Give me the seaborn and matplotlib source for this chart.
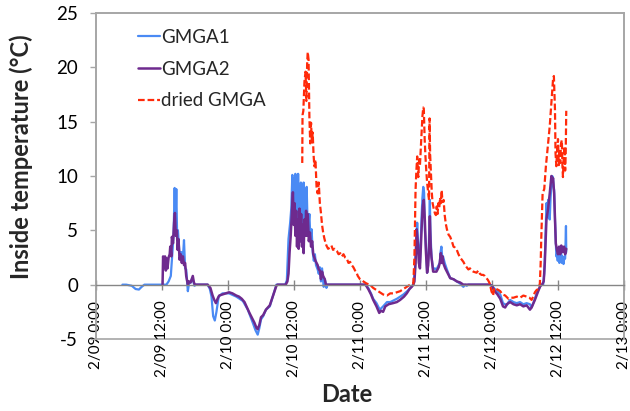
import matplotlib
matplotlib.use("Agg")
import numpy as np
import pandas as pd
import matplotlib.pyplot as plt
import matplotlib.dates as mdates
from matplotlib.ticker import FuncFormatter, FixedLocator
from matplotlib.patches import Rectangle
import seaborn as sns

# ---------------- data (hours since 2/09 0:00, temperature in deg C) ----------------
start = pd.Timestamp("2013-02-09 00:00")

gmga1_hours = [4.8, 5.5, 6.5, 7.2, 7.8, 8.3, 8.8, 10, 11, 12, 12.8, 13.2, 13.6, 13.9, 14.1, 14.3, 14.45, 14.6,
               14.75, 14.9, 15.2, 15.5, 15.8, 16.0, 16.2, 16.4, 16.7, 16.9, 17.2, 17.5, 17.7, 17.9, 18.2, 20.3,
               20.7, 21.0, 21.3, 21.6, 21.9, 22.3, 23, 24.2, 25.5, 26.7, 27.6, 28.5, 29.0, 29.4, 29.7, 30.0,
               30.4, 30.9, 31.6, 32.2, 32.8, 34.4, 34.7, 35.0, 35.3, 35.5,
               35.7, 35.85, 36.0, 36.1, 36.25, 36.4, 36.5, 36.6, 36.75, 36.9, 37.0, 37.1, 37.25, 37.4, 37.5,
               37.6, 37.75, 37.9, 38.0, 38.15, 38.3, 38.45, 38.6, 38.8, 39.0, 39.2, 39.4, 39.6, 39.8, 40.0,
               40.3, 40.5, 40.7, 40.9, 41.1, 41.4, 41.6, 41.9, 42.1,
               49.0, 49.5, 50.0, 50.4, 51.0, 51.6, 52.2, 52.9, 53.5, 54.7, 55.9, 56.8, 57.3, 57.7, 58.0, 58.1,
               58.25, 58.4, 58.55, 58.7, 58.9, 59.05, 59.2, 59.35, 59.5, 59.65, 59.8, 60.0, 60.2, 60.35, 60.5,
               60.6, 60.7, 60.8, 61.0, 61.3, 61.6, 61.9, 62.2, 62.5, 62.65, 62.8, 62.95, 63.1, 63.4, 63.8, 64.1,
               64.4, 65.0, 65.6, 66.2, 66.8, 67.1, 67.4, 67.7, 71.6, 72.0, 72.5, 73.0, 73.5, 74.0, 74.7, 75.0,
               75.3, 75.9, 76.5, 77.1, 77.7, 78.3, 78.9, 79.2, 79.5, 79.8, 80.1, 80.4, 80.7, 81.0, 81.3, 81.5,
               81.6, 81.75, 81.9, 82.05, 82.2, 82.35, 82.5, 82.65, 82.8, 82.95, 83.1, 83.2, 83.3, 83.45, 83.6,
               83.7, 83.8, 83.95, 84.1, 84.25, 84.4, 84.55, 84.7, 84.85, 85.0, 85.15, 85.3, 85.45, 85.5]
gmga1_temp = [0, 0, -0.1, -0.4, -0.45, -0.2, 0, 0, 0, 0, 0.0, 0.3, 0.8, 3.0, 4.5, 8.9, 5.5, 8.8,
              4.5, 5.0, 2.6, 3.0, 2.5, 4.1, 1.5, 1.4, -0.6, 0.1, 0.2, 0.6, 0.3, -0.1, 0, 0,
              -0.4, -1.1, -2.9, -3.3, -2.5, -1.1, -0.8, -0.8, -1.1, -1.5, -2.3, -3.5, -4.2, -4.6, -4.0, -3.2,
              -2.9, -2.3, -2.0, -1.0, 0, 0.0, 0.4, 4.2, 5.7, 7.0,
              10.1, 6.0, 9.8, 5.5, 10.2, 7.0, 9.5, 5.2, 10.2, 6.5, 9.0, 5.0, 9.4, 6.8, 9.0,
              5.5, 9.4, 6.0, 8.8, 5.5, 9.0, 6.0, 5.4, 6.5, 4.0, 5.1, 3.0, 2.2, 2.8, 1.8,
              1.4, 1.0, 1.6, 0.3, 1.5, -0.2, 0.5, -0.3, 0,
              0, -0.3, -0.8, -1.3, -1.7, -2.3, -2.0, -1.6, -1.6, -1.3, -0.9, -0.5, -0.2, 0, 1.5, 2.6,
              4.0, 5.7, 4.0, 3.2, 2.0, 4.0, 6.3, 8.0, 9.0, 8.5, 5.0, 3.2, 1.1, 2.0, 3.2,
              5.5, 7.8, 5.0, 2.6, 1.4, 1.5, 1.4, 1.7, 2.0, 3.0, 3.5, 2.5, 2.6, 2.0, 1.4, 1.0,
              0.6, 0.5, 0.3, 0.1, -0.2, 0.0, -0.1, 0, 0, -0.1, -0.4, -0.6, -0.9, -1.7, -1.9, -1.6,
              -1.4, -1.6, -1.7, -1.6, -1.8, -1.7, -1.8, -2.1, -1.7, -1.3, -0.8, -0.5, -0.2, 0, 0, 1.0,
              2.3, 5.0, 7.5, 6.5, 7.8, 6.2, 6.0, 8.0, 9.1, 10.0, 9.8, 9.0, 8.7, 6.0, 3.8,
              2.6, 2.8, 2.2, 3.0, 2.0, 2.3, 3.2, 2.0, 2.6, 1.9, 2.5, 2.4, 5.4, 3.0]

gmga2_hours = [12.1, 12.2, 12.4, 12.55, 12.7, 12.85, 13.0, 13.2, 13.4, 13.5, 13.7, 13.8, 14.0, 14.2, 14.35,
               14.5, 14.7, 14.85, 15.0, 15.2, 15.4, 15.6, 15.8, 16.0, 16.2, 16.4, 16.7, 16.9, 17.2, 17.6, 17.8,
               18.0, 20.3, 20.8, 21.2, 21.5, 21.8, 22.1, 22.4, 23.0, 23.6, 24.2, 24.8, 25.5, 26.0, 26.5, 27.0,
               27.9, 28.8, 29.2, 29.4, 29.7, 30.0, 30.4, 30.9, 31.6, 32.2, 32.8, 33.0, 34.5, 34.8, 35.0, 35.2,
               35.4, 35.6, 35.8, 35.95, 36.1, 36.25, 36.4, 36.55, 36.7, 36.85, 37.0, 37.15, 37.3, 37.45, 37.6,
               37.75, 37.9, 38.05, 38.2, 38.35, 38.5, 38.7, 38.9, 39.1, 39.3, 39.5, 39.7, 39.9, 40.1, 40.3,
               40.5, 40.7, 40.9, 41.1, 41.3, 41.6, 41.8, 49.0, 49.5, 50.0, 50.4, 51.0, 51.5, 51.8, 52.2, 52.6,
               53.2, 54.0, 54.7, 55.3, 56.0, 56.5, 57.0, 57.4, 57.7, 57.9, 58.1, 58.3, 58.5, 58.7, 58.9, 59.2,
               59.4, 59.6, 59.8, 60.0, 60.2, 60.4, 60.6, 60.7, 60.85, 61.0, 61.3, 61.9, 62.3, 62.5, 62.7,
               62.85, 63.0, 63.2, 63.5, 63.8, 64.4, 65.0, 65.6, 66.2, 66.8, 71.6, 72.0, 72.5, 73.0, 73.5,
               74.0, 74.4, 74.7, 75.3, 75.9, 76.5, 77.1, 77.7, 78.3, 78.9, 79.2, 79.8, 80.4, 80.8, 81.1,
               81.4, 81.6, 81.9, 82.2, 82.5, 82.8, 82.95, 83.1, 83.3, 83.45, 83.6, 83.8, 84.0, 84.2, 84.4,
               84.6, 84.9, 85.1, 85.3, 85.5]
gmga2_temp = [0, 2.6, 1.6, 2.6, 1.3, 2.4, 1.5, 2.5, 2.8, 3.5, 2.6, 4.4, 3.8, 5.7, 6.6,
              4.5, 5.0, 3.2, 4.2, 2.3, 2.8, 2.0, 2.6, 1.8, 2.0, 0.8, 0.0, 0.3, 0.2, 0.8, 0.2,
              0, 0, -0.3, -1.0, -1.4, -1.7, -1.3, -1.0, -0.9, -0.8, -0.7, -0.8, -1.0, -1.1, -1.3, -1.6,
              -2.6, -3.5, -4.0, -4.1, -3.7, -3.0, -2.8, -2.3, -1.9, -1.0, -0.1, 0, 0, 0.3, 1.0, 3.0,
              4.5, 6.5, 8.5, 5.5, 7.5, 4.5, 6.8, 3.5, 6.0, 3.3, 7.0, 4.0, 6.5, 3.5, 5.5,
              2.9, 6.0, 4.5, 6.8, 4.5, 6.5, 4.0, 4.8, 3.5, 4.0, 2.8, 2.5, 2.2, 2.0, 1.8,
              1.4, 1.3, 0.5, 1.2, 0.8, 0.5, 0.0, 0, -0.4, -0.9, -1.4, -2.0, -2.6, -2.4, -2.5, -2.0,
              -1.8, -1.7, -1.6, -1.4, -1.1, -0.8, -0.4, -0.2, 0, 0.3, 2.0, 5.1, 3.9, 2.0, 1.5, 5.1,
              7.2, 7.8, 5.8, 2.9, 1.1, 1.8, 4.0, 6.3, 3.5, 2.5, 1.2, 1.2, 1.6, 2.0, 2.9,
              2.0, 2.6, 1.9, 1.5, 1.2, 0.6, 0.5, 0.3, 0.2, 0.0, 0, -0.1, -0.6, -0.9, -1.3,
              -2.0, -2.1, -1.8, -1.6, -1.8, -1.9, -1.8, -2.0, -1.9, -2.3, -2.1, -1.4, -0.6, -0.1, 0,
              0.3, 2.0, 6.0, 7.0, 8.4, 10.0, 9.5, 9.8, 8.4, 6.0, 3.8, 3.2, 2.8, 3.5, 2.8,
              3.6, 3.0, 3.5, 2.8, 3.3]

dried_hours = [37.5, 37.55, 37.7, 37.9, 38.1, 38.25, 38.4, 38.5, 38.65, 38.8, 38.95, 39.1, 39.25, 39.4, 39.55,
               39.7, 39.9, 40.1, 40.3, 40.5, 40.7, 40.9, 41.1, 41.3, 41.5, 41.7, 41.9, 42.2, 42.5, 42.8, 43.1,
               43.4, 43.8, 44.1, 44.4, 44.7, 45.0, 45.3, 45.6, 45.9, 46.2, 46.5, 46.8, 47.1, 47.3, 47.6, 48.0,
               48.3, 48.6, 49.2, 49.8, 50.4, 51.0, 51.6, 52.2, 52.9, 53.5, 54.1, 54.7, 55.3, 55.9, 56.5, 57.1,
               57.7, 57.9, 58.1, 58.25, 58.4, 58.6, 58.75, 58.9, 59.05, 59.2, 59.35, 59.5, 59.6, 59.75, 59.9,
               60.05, 60.2, 60.4, 60.55, 60.65, 60.75, 60.9, 61.05, 61.2, 61.4, 61.6, 61.8, 61.95, 62.1, 62.25,
               62.4, 62.55, 62.7, 62.85, 63.0, 63.2, 63.4, 63.6, 63.8, 64.1, 64.4, 64.7, 65.0, 65.3, 65.6,
               65.9, 66.2, 66.5, 66.8, 67.1, 67.4, 67.7, 68.0, 68.3, 68.6, 69.2, 69.5, 69.8, 70.1, 70.4, 70.7,
               71.0, 71.3, 71.6, 71.9, 72.2, 72.4, 72.8, 73.2, 73.5, 73.9, 74.4, 75.0, 75.5, 75.9, 76.5, 77.1,
               77.7, 78.3, 78.8, 79.2, 79.5, 79.8, 80.1, 80.4, 80.7, 80.85, 80.95, 81.1, 81.2, 81.5, 81.8,
               82.0, 82.2, 82.5, 82.8, 82.95, 83.1, 83.25, 83.35, 83.45, 83.55, 83.7, 83.85, 84.0, 84.15,
               84.3, 84.4, 84.55, 84.7, 84.8, 84.9, 85.05, 85.2, 85.3, 85.4, 85.5]
dried_temp = [11.2, 15.6, 16.0, 18.7, 19.6, 16.9, 20.5, 21.4, 20.7, 15.4, 13.0, 14.9, 13.1, 14.0, 12.0,
              10.9, 11.5, 9.0, 8.4, 9.4, 7.5, 6.6, 5.5, 4.8, 4.3, 3.9, 3.6, 3.3, 3.4, 3.6, 3.2,
              3.3, 3.1, 2.8, 2.9, 2.6, 2.8, 2.5, 2.4, 2.0, 2.1, 1.8, 1.6, 1.3, 1.2, 0.8, 0.5,
              0.4, 0.3, 0.1, 0.0, -0.3, -0.5, -0.7, -0.9, -1.0, -0.8, -0.8, -0.7, -0.6, -0.4, -0.2, 0.0,
              0.1, 2.6, 8.7, 10.5, 11.8, 9.9, 11.5, 11.0, 12.5, 13.9, 15.5, 16.3, 16.2, 13.5, 11.8,
              10.5, 9.4, 8.5, 7.8, 15.3, 12.0, 10.3, 8.5, 7.5, 7.0, 6.6, 6.4, 7.2, 6.5, 7.5,
              7.0, 8.0, 7.5, 8.7, 7.6, 7.8, 6.4, 5.6, 5.1, 4.6, 4.4, 4.0, 3.5, 3.4, 3.2,
              2.8, 2.5, 2.3, 2.1, 1.8, 1.6, 1.4, 1.5, 1.3, 1.2, 1.1, 1.3, 1.0, 0.9, 0.9, 0.8,
              0.6, 0.4, 0.1, -0.6, -1.0, -0.3, -0.4, -0.5, -0.6, -0.9, -1.0, -1.3, -1.2, -1.2, -1.1, -1.2,
              -1.0, -1.1, -1.2, -1.4, -1.1, -0.7, -0.5, -0.4, 0.1, 2.0, 4.1, 6.5, 8.4, 8.8, 10.9,
              12.0, 13.0, 14.6, 16.7, 17.8, 18.9, 19.2, 17.5, 16.1, 12.1, 10.9, 12.5, 13.4, 11.0,
              12.5, 11.2, 13.0, 13.3, 11.0, 9.9, 12.0, 12.7, 10.5, 12.0, 16.0]

series_names = ["GMGA1", "GMGA2", "dried GMGA"]
tick_hours = [0, 12, 24, 36, 48, 60, 72, 84, 96]
y_ticks = [-5, 0, 5, 10, 15, 20, 25]


def to_time(hours):
    return start + pd.to_timedelta(np.asarray(hours, dtype=float), unit="h")


# ---------------- figure ----------------
sns.set_theme(style="white")
plt.rcParams["font.family"] = ["Lato", "DejaVu Sans"]
plt.rcParams["axes.unicode_minus"] = False

fig = plt.figure(figsize=(6.3, 4.11), dpi=100)
ax = fig.add_axes([96 / 630, 1 - 339 / 411, 528 / 630, 326 / 411])

blue = "#4a8af4"
purple = "#6e2a8e"
red = "#ff2a0a"

sns.lineplot(x=to_time(gmga1_hours), y=gmga1_temp, ax=ax, color=blue, lw=1.6,
             estimator=None, sort=False, label=series_names[0])
sns.lineplot(x=to_time(gmga2_hours), y=gmga2_temp, ax=ax, color=purple, lw=1.8,
             estimator=None, sort=False, label=series_names[1])
sns.lineplot(x=to_time(dried_hours), y=dried_temp, ax=ax, color=red, lw=1.6,
             linestyle=(0, (3, 1.3)), estimator=None, sort=False, label=series_names[2])

ax.set_xlim(to_time([0])[0], to_time([96])[0])
ax.set_ylim(-5, 25)

# x axis crosses at 0
ax.spines["bottom"].set_position(("data", 0))
ax.spines["bottom"].set_color("#868686")
ax.spines["bottom"].set_linewidth(1.0)
for s in ["left", "top", "right"]:
    ax.spines[s].set_color("#a6a6a6")
    ax.spines[s].set_linewidth(1.2)
ax.add_patch(Rectangle((0, 0), 1, 1, transform=ax.transAxes, fill=False,
                       edgecolor="#a6a6a6", lw=1.2, clip_on=False, zorder=0.5))

tick_times = to_time(tick_hours)
ax.xaxis.set_major_locator(FixedLocator(mdates.date2num(tick_times)))


def fmt(x, pos):
    d = mdates.num2date(x)
    return f"{d.month}/{d.day:02d} {d.hour}:00"


ax.xaxis.set_major_formatter(FuncFormatter(fmt))
ax.tick_params(axis="x", direction="inout", length=7, width=1, color="#868686",
               labelrotation=90, labelsize=11, pad=8, labelcolor="black", bottom=True)
ax.set_yticks(y_ticks)
ax.tick_params(axis="y", direction="out", length=4, width=1, color="#a6a6a6",
               labelsize=13.5, pad=9, labelcolor="black", left=True)

ax.set_xlabel("Date", fontsize=17, fontweight="bold")
ax.set_ylabel("Inside temperature (°C)", fontsize=17, fontweight="bold")
ax.xaxis.set_label_coords(0.475, -0.135)
ax.yaxis.set_label_coords(-0.12, 0.56)

leg = ax.legend(loc="upper left", bbox_to_anchor=(138 / 630, 1 - 29 / 411),
                bbox_transform=fig.transFigure, frameon=False, fontsize=13.5,
                handlelength=1.15, handletextpad=0.1, labelspacing=0.78,
                borderpad=0, borderaxespad=0)

fig.savefig("out.png", dpi=100)
